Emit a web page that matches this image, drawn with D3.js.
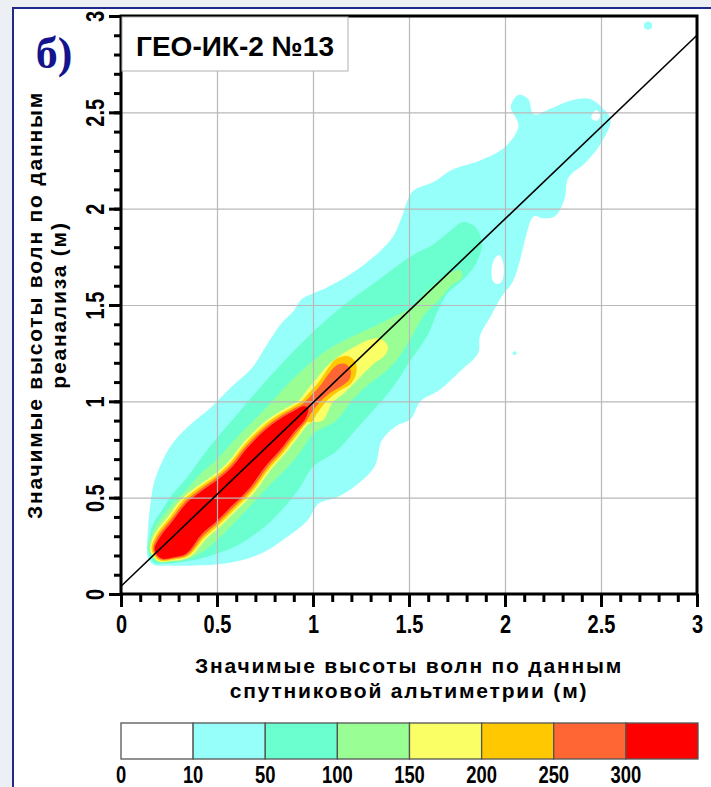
<!DOCTYPE html>
<html lang="ru">
<head>
<meta charset="UTF-8">
<title>ГЕО-ИК-2 №13</title>
<script src="https://d3js.org/d3.v7.min.js"></script>
<style>
  body { margin: 0; background: #eceff3; }
  svg { display: block; }
</style>
</head>
<body>
<svg width="711" height="787"></svg>
<script>
// ---- data (metres) ----
const xTicks = [0, 0.5, 1, 1.5, 2, 2.5, 3];
const xTickLabels = ["0", "0.5", "1", "1.5", "2", "2.5", "3"];
const yTicks = [0, 0.5, 1, 1.5, 2, 2.5, 3];
const yTickLabels = ["0", "0.5", "1", "1.5", "2", "2.5", "3"];
const minorTicks = [0,0.1,0.2,0.3,0.4,0.5,0.6,0.7,0.8,0.9,1,1.1,1.2,1.3,1.4,1.5,1.6,1.7,1.8,1.9,2,2.1,2.2,2.3,2.4,2.5,2.6,2.7,2.8,2.9,3];

const levelValues = [0, 10, 50, 100, 150, 200, 250, 300];
const levelLabels = ["0", "10", "50", "100", "150", "200", "250", "300"];
const levelColors = ["#ffffff", "#96fffa", "#6bffd0", "#99ff95", "#faff66", "#ffc800", "#ff6633", "#ff0000"];

// contour outlines, one per level (>=10 ... >=300)
const band10 = [[0.135,0.23],[0.138,0.30],[0.145,0.40],[0.155,0.48],[0.17,0.57],[0.19,0.63],[0.23,0.72],[0.26,0.77],[0.30,0.82],[0.35,0.87],[0.41,0.92],[0.46,0.96],[0.52,1.02],[0.58,1.08],[0.68,1.17],[0.77,1.31],[0.84,1.41],[0.90,1.47],[0.94,1.53],[1.00,1.56],[1.07,1.59],[1.18,1.65],[1.28,1.72],[1.36,1.79],[1.42,1.86],[1.46,1.95],[1.52,2.09],[1.63,2.14],[1.72,2.20],[1.87,2.25],[2.00,2.32],[2.07,2.43],[2.03,2.53],[2.07,2.59],[2.12,2.57],[2.15,2.49],[2.24,2.52],[2.34,2.56],[2.44,2.57],[2.51,2.52],[2.55,2.46],[2.50,2.34],[2.42,2.24],[2.33,2.16],[2.31,2.05],[2.26,1.96],[2.20,1.95],[2.15,1.96],[2.11,1.86],[2.08,1.74],[2.04,1.62],[1.98,1.54],[1.93,1.45],[1.87,1.34],[1.86,1.25],[1.77,1.16],[1.66,1.06],[1.56,1.00],[1.51,0.91],[1.43,0.87],[1.36,0.80],[1.32,0.66],[1.22,0.56],[1.12,0.50],[1.03,0.47],[0.97,0.38],[0.87,0.30],[0.73,0.21],[0.55,0.16],[0.38,0.148],[0.25,0.148],[0.17,0.152],[0.14,0.19]];
const band50 = [[0.14,0.23],[0.15,0.30],[0.17,0.37],[0.21,0.43],[0.27,0.52],[0.34,0.60],[0.42,0.71],[0.50,0.81],[0.62,0.95],[0.75,1.10],[0.88,1.24],[1.00,1.36],[1.10,1.45],[1.20,1.53],[1.30,1.60],[1.42,1.69],[1.52,1.76],[1.62,1.81],[1.71,1.88],[1.78,1.93],[1.85,1.90],[1.88,1.81],[1.84,1.70],[1.78,1.63],[1.70,1.56],[1.65,1.47],[1.60,1.35],[1.50,1.20],[1.42,1.08],[1.32,0.96],[1.22,0.85],[1.12,0.74],[1.00,0.66],[0.93,0.55],[0.85,0.45],[0.75,0.35],[0.62,0.26],[0.50,0.21],[0.40,0.18],[0.30,0.165],[0.22,0.158],[0.17,0.163]];
const band100 = [[0.145,0.23],[0.165,0.32],[0.20,0.38],[0.27,0.47],[0.34,0.54],[0.42,0.63],[0.50,0.70],[0.62,0.83],[0.75,0.96],[0.87,1.09],[1.00,1.21],[1.08,1.27],[1.15,1.31],[1.30,1.38],[1.40,1.43],[1.50,1.48],[1.58,1.56],[1.66,1.63],[1.72,1.67],[1.77,1.68],[1.775,1.64],[1.72,1.60],[1.66,1.53],[1.58,1.45],[1.51,1.33],[1.44,1.22],[1.36,1.14],[1.28,1.08],[1.20,1.00],[1.12,0.90],[1.00,0.83],[0.93,0.73],[0.86,0.65],[0.75,0.54],[0.62,0.40],[0.50,0.28],[0.42,0.215],[0.34,0.178],[0.26,0.168],[0.19,0.168]];
const band150 = [[0.152,0.23],[0.176,0.314],[0.246,0.404],[0.316,0.494],[0.396,0.559],[0.476,0.614],[0.556,0.684],[0.636,0.784],[0.726,0.874],[0.806,0.934],[0.876,0.974],[0.926,1.005],[0.97,1.06],[1.02,1.12],[1.08,1.19],[1.15,1.245],[1.22,1.285],[1.29,1.32],[1.35,1.325],[1.39,1.285],[1.375,1.24],[1.31,1.19],[1.24,1.12],[1.17,1.05],[1.10,0.99],[1.05,0.90],[0.984,0.886],[0.924,0.816],[0.854,0.726],[0.774,0.636],[0.694,0.526],[0.604,0.436],[0.524,0.356],[0.444,0.286],[0.358,0.192],[0.27,0.172],[0.195,0.17]];
const band200 = [[0.16,0.23],[0.184,0.306],[0.254,0.396],[0.324,0.486],[0.404,0.551],[0.484,0.606],[0.564,0.676],[0.644,0.776],[0.734,0.866],[0.814,0.926],[0.884,0.966],[0.934,0.995],[0.98,1.045],[1.03,1.10],[1.07,1.16],[1.12,1.22],[1.18,1.235],[1.22,1.205],[1.225,1.145],[1.195,1.09],[1.13,1.05],[1.07,1.00],[1.02,0.935],[0.99,0.89],[0.976,0.894],[0.916,0.824],[0.846,0.734],[0.766,0.644],[0.686,0.534],[0.596,0.444],[0.516,0.364],[0.436,0.294],[0.352,0.198],[0.27,0.178],[0.20,0.175]];
const band250 = [[0.168,0.23],[0.192,0.298],[0.262,0.388],[0.332,0.478],[0.412,0.543],[0.492,0.598],[0.572,0.668],[0.652,0.768],[0.742,0.858],[0.822,0.918],[0.892,0.958],[0.942,0.983],[0.99,1.03],[1.04,1.085],[1.08,1.14],[1.12,1.185],[1.165,1.195],[1.195,1.165],[1.19,1.115],[1.15,1.08],[1.09,1.045],[1.03,0.99],[0.985,0.93],[0.968,0.902],[0.908,0.832],[0.838,0.742],[0.758,0.652],[0.678,0.542],[0.588,0.452],[0.508,0.372],[0.428,0.302],[0.346,0.204],[0.27,0.184],[0.205,0.18]];
const band300 = [[0.175,0.23],[0.20,0.29],[0.27,0.38],[0.34,0.47],[0.42,0.535],[0.50,0.59],[0.58,0.66],[0.66,0.76],[0.75,0.85],[0.83,0.91],[0.90,0.95],[0.95,0.975],[0.975,0.965],[0.96,0.91],[0.90,0.84],[0.83,0.75],[0.75,0.66],[0.67,0.55],[0.58,0.46],[0.50,0.38],[0.42,0.31],[0.34,0.21],[0.27,0.19],[0.21,0.185]];

// white gaps inside the outer level
const hole1 = [[1.94,1.62],[1.93,1.68],[1.945,1.74],[1.97,1.76],[1.99,1.72],[1.99,1.64],[1.97,1.61]];
const hole2 = [[2.45,2.47],[2.46,2.50],[2.48,2.51],[2.495,2.48],[2.475,2.455]];
// isolated spots: x, y, radius
const spots = [[2.745, 2.95, 0.022], [2.05, 1.25, 0.01]];

// regression line end points
const fitX = [0, 3];
const fitY = [0.04, 2.90];

// ---- drawing ----
const svg = d3.select("svg");
const W = 711, H = 787;
const font = "'Liberation Sans', Arial, sans-serif";
const narrow = 0.8; // tick digits are a narrow face in the original

svg.append("rect").attr("width", W).attr("height", H).attr("fill", "#eceff3");
svg.append("rect")
   .attr("x", 13).attr("y", 8)
   .attr("width", W).attr("height", H)
   .attr("fill", "#fff")
   .attr("stroke", "#1f2a8a")
   .attr("stroke-width", 2);

const x = d3.scaleLinear().domain([0, 3]).range([121, 697]);
const y = d3.scaleLinear().domain([0, 3]).range([594, 16]);

svg.append("clipPath").attr("id", "plotclip")
   .append("rect")
   .attr("x", x(0)).attr("y", y(3))
   .attr("width", x(3) - x(0)).attr("height", y(0) - y(3));

const plot = svg.append("g").attr("clip-path", "url(#plotclip)");

const outline = d3.line()
    .x(d => x(d[0]))
    .y(d => y(d[1]))
    .curve(d3.curveCatmullRomClosed.alpha(0.5));

const bands = [band10, band50, band100, band150, band200, band250, band300];
bands.forEach((b, i) => {
    plot.append("path")
        .attr("d", outline(b))
        .attr("fill", levelColors[i + 1]);
});

plot.selectAll(".hole")
    .data([hole1, hole2])
    .enter().append("path")
    .attr("class", "hole")
    .attr("d", d => outline(d))
    .attr("fill", "#fff");

plot.selectAll(".spot")
    .data(spots)
    .enter().append("circle")
    .attr("class", "spot")
    .attr("cx", d => x(d[0]))
    .attr("cy", d => y(d[1]))
    .attr("r", d => x(d[2]) - x(0))
    .attr("fill", levelColors[1]);

// grid
const gx = plot.append("g")
    .attr("transform", `translate(0,${y(0)})`)
    .call(d3.axisBottom(x).tickValues(xTicks).tickSize(-(y(0) - y(3))).tickFormat(""));
const gy = plot.append("g")
    .attr("transform", `translate(${x(0)},0)`)
    .call(d3.axisLeft(y).tickValues(yTicks).tickSize(-(x(3) - x(0))).tickFormat(""));
[gx, gy].forEach(g => {
    g.select(".domain").remove();
    g.selectAll("line").attr("stroke", "#b9b9b9").attr("stroke-width", 1.2);
});

// fit line
plot.append("line")
    .attr("x1", x(fitX[0])).attr("y1", y(fitY[0]))
    .attr("x2", x(fitX[1])).attr("y2", y(fitY[1]))
    .attr("stroke", "#000")
    .attr("stroke-width", 1.6);

// frame
svg.append("rect")
   .attr("x", x(0)).attr("y", y(3))
   .attr("width", x(3) - x(0)).attr("height", y(0) - y(3))
   .attr("fill", "none")
   .attr("stroke", "#000")
   .attr("stroke-width", 3);

// axes: minor ticks
const yMinor = svg.append("g").attr("transform", `translate(${x(0)},0)`)
    .call(d3.axisLeft(y).tickValues(minorTicks).tickSize(7).tickFormat(""));
const xMinor = svg.append("g").attr("transform", `translate(0,${y(0)})`)
    .call(d3.axisBottom(x).tickValues(minorTicks).tickSize(8).tickFormat(""));

// axes: major ticks with labels
const yAxis = svg.append("g").attr("transform", `translate(${x(0)},0)`)
    .call(d3.axisLeft(y).tickValues(yTicks).tickSize(12).tickFormat((d, i) => yTickLabels[i]));
const xAxis = svg.append("g").attr("transform", `translate(0,${y(0)})`)
    .call(d3.axisBottom(x).tickValues(xTicks).tickSize(13).tickFormat((d, i) => xTickLabels[i]));

[yMinor, xMinor, yAxis, xAxis].forEach(g => {
    g.select(".domain").remove();
    g.selectAll("line").attr("stroke", "#000").attr("stroke-width", 3);
    g.attr("font-family", font).attr("font-size", 25).attr("font-weight", "bold");
});

yAxis.selectAll("text")
    .attr("x", 0).attr("y", 0).attr("dy", null)
    .attr("transform", `translate(-17,0) rotate(-90) scale(${narrow},1)`)
    .attr("text-anchor", "middle")
    .attr("fill", "#000");
xAxis.selectAll("text")
    .attr("x", 0).attr("y", 0).attr("dy", null)
    .attr("transform", `translate(0,39) scale(${narrow},1)`)
    .attr("fill", "#000");

// axis titles
const xTitle = svg.append("text")
    .attr("text-anchor", "middle")
    .attr("font-family", font).attr("font-size", 21).attr("font-weight", "bold")
    .attr("letter-spacing", 1.8);
xTitle.append("tspan").attr("x", x(1.5)).attr("y", 673).text("Значимые высоты волн по данным");
xTitle.append("tspan").attr("x", x(1.5)).attr("y", 698).text("спутниковой альтиметрии (м)");

const yTitle = svg.append("text")
    .attr("transform", `translate(0,${(y(0) + y(3)) / 2}) rotate(-90)`)
    .attr("text-anchor", "middle")
    .attr("font-family", font).attr("font-size", 21).attr("font-weight", "bold")
    .attr("letter-spacing", 1.8);
yTitle.append("tspan").attr("x", 0).attr("y", 42).text("Значимые высоты волн по данным");
yTitle.append("tspan").attr("x", 0).attr("y", 66).text("реанализа (м)");

// title box
svg.append("rect")
   .attr("x", 122).attr("y", 17).attr("width", 226).attr("height", 54)
   .attr("fill", "#fff").attr("stroke", "#b0b0b0").attr("stroke-width", 1);
svg.append("text")
   .attr("x", 235).attr("y", 56)
   .attr("text-anchor", "middle")
   .attr("font-family", font).attr("font-size", 28).attr("font-weight", "bold")
   .text("ГЕО-ИК-2 №13");

// panel letter
svg.append("text")
   .attr("x", 54).attr("y", 68)
   .attr("text-anchor", "middle")
   .attr("font-family", "'Liberation Serif', 'DejaVu Serif', serif")
   .attr("font-size", 44).attr("font-weight", "bold")
   .attr("fill", "#14148c")
   .text("б)");

// colour bar
const cb = d3.scaleBand().domain(levelValues).range([121, 698]).padding(0);
svg.selectAll(".cell")
   .data(levelValues)
   .enter().append("rect")
   .attr("class", "cell")
   .attr("x", d => cb(d)).attr("y", 723)
   .attr("width", cb.bandwidth()).attr("height", 36)
   .attr("fill", (d, i) => levelColors[i])
   .attr("stroke", "#555").attr("stroke-width", 1.3);
svg.selectAll(".cblabel")
   .data(levelValues)
   .enter().append("text")
   .attr("class", "cblabel")
   .attr("transform", d => `translate(${cb(d)},783) scale(${narrow},1)`)
   .attr("text-anchor", "middle")
   .attr("font-family", font).attr("font-size", 23).attr("font-weight", "bold")
   .text((d, i) => levelLabels[i]);
</script>
</body>
</html>
